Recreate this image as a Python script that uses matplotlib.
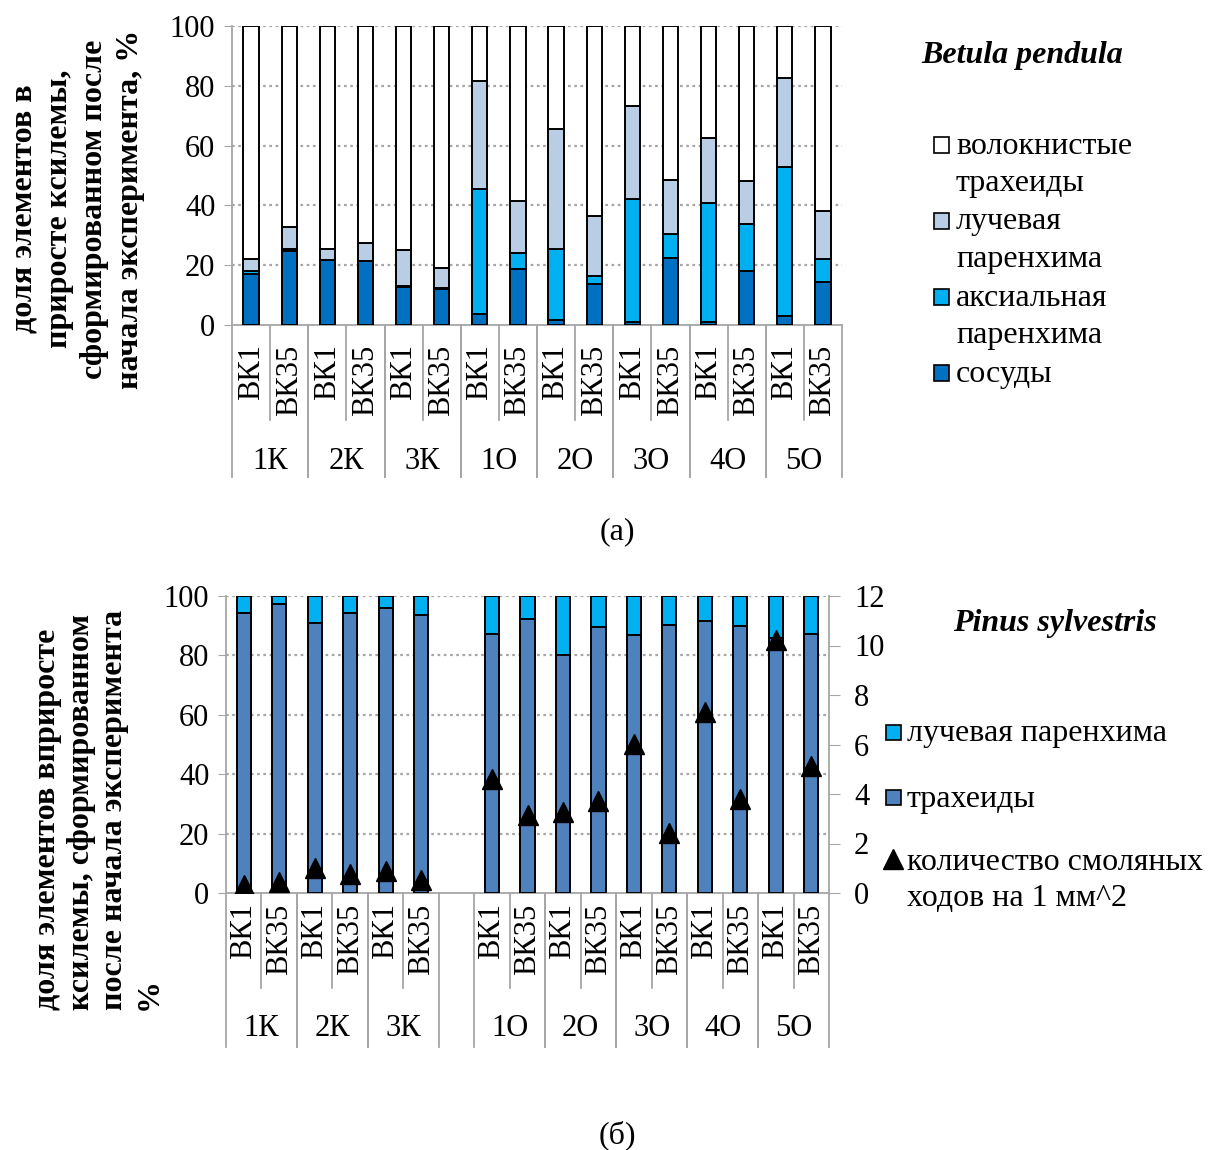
import matplotlib
matplotlib.use("Agg")
import matplotlib.pyplot as plt
from matplotlib.patches import Rectangle
from matplotlib.lines import Line2D

plt.rcParams['font.family'] = ['Liberation Serif', 'DejaVu Serif']

# --- Betula pendula: доли элементов ксилемы, % ---
betula_groups = ['1К', '2К', '3К', '1О', '2О', '3О', '4О', '5О']
sub_labels = ['ВК1', 'ВК35']
betula_vessels = [17.2, 24.8, 21.8, 21.5, 12.6, 12.1, 3.7, 18.8, 1.7, 13.7, 0.9, 22.3, 1.1, 18.0, 3.0, 14.5]
betula_axial = [0.8, 0.6, 0.0, 0.0, 0.3, 0.3, 41.9, 5.2, 23.7, 2.8, 41.2, 8.0, 39.7, 15.7, 49.8, 7.7]
betula_ray = [4.1, 7.5, 3.6, 5.8, 12.1, 6.8, 36.0, 17.4, 40.3, 19.9, 31.3, 18.1, 21.6, 14.6, 29.7, 15.9]
betula_fibers = [77.9, 67.1, 74.6, 72.7, 75.0, 80.8, 18.4, 58.6, 34.3, 63.6, 26.6, 51.6, 37.6, 51.7, 17.5, 61.9]

# --- Pinus sylvestris ---
pinus_groups = ['1К', '2К', '3К', '1О', '2О', '3О', '4О', '5О']
pinus_tracheids = [94.2, 97.4, 91.0, 94.4, 96.0, 93.5, 87.3, 92.4, 80.3, 89.4, 87.0, 90.1, 91.7, 89.8, 86.0, 87.3]
pinus_ray = [5.8, 2.6, 9.0, 5.6, 4.0, 6.5, 12.7, 7.6, 19.7, 10.6, 13.0, 9.9, 8.3, 10.2, 14.0, 12.7]
pinus_resin = [0.34, 0.43, 1.01, 0.77, 0.89, 0.53, 4.6, 3.17, 3.28, 3.72, 6.04, 2.44, 7.32, 3.79, 10.21, 5.13]

C_VESSEL = '#0070C0'
C_AXIAL = '#00B0F0'
C_RAY = '#B9CDE5'
C_TRACH = '#4F81BD'
GRAY = '#A6A6A6'
FS = 22    # ticks and category labels
LFS = 23   # legend, titles, axis labels

W, H = 1208, 1150
fig = plt.figure(figsize=(W / 100, H / 100), dpi=100)


def px_axes(l, t, r, b):
    return fig.add_axes([l / W, 1 - b / H, (r - l) / W, (b - t) / H])


def ftext(x, y, s, **kw):
    # text placed in figure pixels, origin at top-left
    return fig.text(x / W, 1 - y / H, s, **kw)


def style_axis(ax):
    ax.set_ylim(0, 100)
    ax.set_yticks(range(0, 101, 20))
    for y in range(20, 101, 20):
        ax.axhline(y, color=GRAY, ls=(0, (1.2, 1.6)), lw=1.6, zorder=0)
    for s in ['top', 'right']:
        ax.spines[s].set_visible(False)
    ax.spines['left'].set_color(GRAY)
    ax.spines['bottom'].set_color(GRAY)
    ax.spines['left'].set_linewidth(1.3)
    ax.spines['bottom'].set_linewidth(1.3)
    ax.tick_params(axis='y', length=6, color=GRAY, labelsize=FS, pad=6)
    ax.tick_params(axis='x', bottom=False, labelbottom=False)


def category_axis(ax, xs, groups, short_y, long_y, sub_top, grp_y):
    # two-level category labels under the plot
    tr = ax.get_xaxis_transform()
    kw = dict(transform=tr, clip_on=False, color=GRAY, lw=1.3)
    for i, x in enumerate(xs):
        ax.text(x, sub_top, sub_labels[i % 2], transform=tr, rotation=90,
                ha='center', va='top', fontsize=FS)
    for g in range(len(groups)):
        x0, x1 = xs[2 * g], xs[2 * g + 1]
        ax.plot([x0 - 0.5, x0 - 0.5], [0, long_y], **kw)
        ax.plot([x1 + 0.5, x1 + 0.5], [0, long_y], **kw)
        ax.plot([x0 + 0.5, x0 + 0.5], [0, short_y], **kw)
        ax.text((x0 + x1) / 2, grp_y, groups[g], transform=tr,
                ha='center', va='center', fontsize=FS)


def legend_square(x, yc, size, color):
    fig.patches.append(Rectangle((x / W, 1 - (yc + size / 2) / H), size / W, size / H,
                                 transform=fig.transFigure, facecolor=color,
                                 edgecolor='black', lw=1.2))


# ---------------- (а) Betula pendula ----------------
ax1 = px_axes(232, 26, 842, 325)
x1 = list(range(len(betula_vessels)))
bw = 0.4
ek = dict(edgecolor='black', linewidth=1.4, width=bw, zorder=3)
b0 = betula_vessels
b1 = [a + b for a, b in zip(b0, betula_axial)]
b2 = [a + b for a, b in zip(b1, betula_ray)]
ax1.bar(x1, betula_vessels, color=C_VESSEL, **ek)
ax1.bar(x1, betula_axial, bottom=b0, color=C_AXIAL, **ek)
ax1.bar(x1, betula_ray, bottom=b1, color=C_RAY, **ek)
ax1.bar(x1, betula_fibers, bottom=b2, color='white', **ek)
ax1.set_xlim(-0.5, len(x1) - 0.5)
style_axis(ax1)
category_axis(ax1, x1, betula_groups, -0.318, -0.51, -0.065, -0.458)

ftext(77, 209, 'доля элементов в\nприросте ксилемы,\nсформированном после\nначала эксперимента, %',
      rotation=90, ha='center', va='center', fontsize=LFS, fontweight='bold',
      multialignment='center', linespacing=1.3)

ftext(1022, 56, 'Betula pendula', ha='center', va='center',
      fontsize=LFS, fontweight='bold', fontstyle='italic')

legend_top = [('white', 145, 'волокнистые', 'трахеиды'),
              (C_RAY, 221, 'лучевая', 'паренхима'),
              (C_AXIAL, 297, 'аксиальная', 'паренхима'),
              (C_VESSEL, 373, 'сосуды', None)]
for col, yc, l1, l2 in legend_top:
    legend_square(934, yc, 15, col)
    ftext(956, yc + 1, l1, ha='left', va='center', fontsize=LFS)
    if l2:
        ftext(956, yc + 38, l2, ha='left', va='center', fontsize=LFS)

ftext(617, 532, '(а)', ha='center', va='center', fontsize=LFS)

# ---------------- (б) Pinus sylvestris ----------------
ax2 = px_axes(226, 596, 829, 893)
x2 = list(range(6)) + list(range(7, 17))
ax2.bar(x2, pinus_tracheids, color=C_TRACH, **ek)
ax2.bar(x2, pinus_ray, bottom=pinus_tracheids, color=C_AXIAL, **ek)
ax2.set_xlim(-0.5, 16.5)
style_axis(ax2)
category_axis(ax2, x2, pinus_groups, -0.32, -0.52, -0.035, -0.455)

ax2r = ax2.twinx()
ax2r.plot(x2, pinus_resin, ls='none', marker='^', ms=14.5, color='black', zorder=5)
ax2r.set_ylim(0, 12)
ax2r.set_yticks(range(0, 13, 2))
for s in ['top', 'left', 'bottom']:
    ax2r.spines[s].set_visible(False)
ax2r.spines['right'].set_color(GRAY)
ax2r.spines['right'].set_linewidth(1.3)
ax2r.tick_params(axis='y', length=8, color=GRAY, labelsize=FS, pad=10)

ftext(98, 1010, 'доля элементов вприросте\nксилемы, сформированном\nпосле начала эксперимента\n%',
      rotation=90, ha='center', va='bottom', fontsize=LFS, fontweight='bold',
      multialignment='left', linespacing=1.22)

ftext(1055, 624, 'Pinus sylvestris', ha='center', va='center',
      fontsize=LFS, fontweight='bold', fontstyle='italic')

for col, yc, lab in [(C_AXIAL, 732, 'лучевая паренхима'), (C_TRACH, 797, 'трахеиды')]:
    legend_square(886, yc, 15, col)
    ftext(907, yc + 2, lab, ha='left', va='center', fontsize=LFS)
fig.lines.append(Line2D([893 / W], [1 - 859 / H], transform=fig.transFigure,
                        marker='^', ms=14, color='black', ls='none'))
ftext(907, 862, 'количество смоляных', ha='left', va='center', fontsize=LFS)
ftext(907, 898, 'ходов на 1 мм^2', ha='left', va='center', fontsize=LFS)

ftext(617, 1135, '(б)', ha='center', va='center', fontsize=LFS)

fig.savefig('out.png', dpi=100)
